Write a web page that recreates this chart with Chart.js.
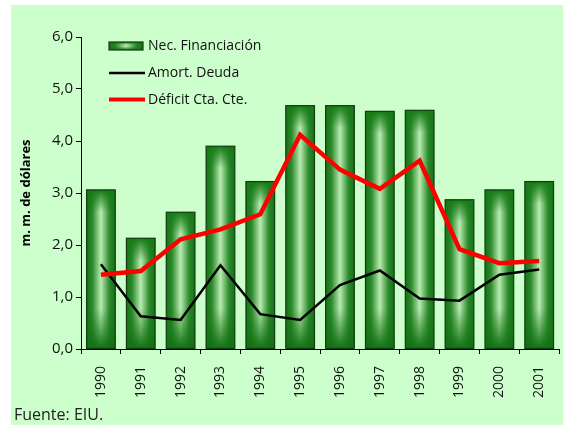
<!DOCTYPE html>
<html>
<head>
<meta charset="utf-8">
<script src="https://cdn.jsdelivr.net/npm/chart.js@4"></script>
<style>
  html, body { margin: 0; padding: 0; background: #fff; overflow: hidden; }
  #marco { position: absolute; left: 11px; top: 5px; width: 557px; height: 420px; background: #ccffcc; }
  #fuente { position: absolute; left: 14px; top: 405px; font: 16px "Open Sans", sans-serif; color: #222; line-height: 18px; }
</style>
</head>
<body>
<div id="marco"><canvas id="wykres" width="557" height="420"></canvas></div>
<div id="fuente">Fuente: EIU.</div>
<script>
// dane
const anos = ["1990", "1991", "1992", "1993", "1994", "1995", "1996", "1997", "1998", "1999", "2000", "2001"];
const necFinanciacion = [3.06, 2.13, 2.63, 3.9, 3.22, 4.68, 4.68, 4.57, 4.59, 2.87, 3.06, 3.22];
const amortDeuda = [1.63, 0.63, 0.56, 1.61, 0.67, 0.56, 1.23, 1.51, 0.97, 0.93, 1.43, 1.53];
const deficitCta = [1.43, 1.5, 2.11, 2.3, 2.59, 4.12, 3.45, 3.08, 3.62, 1.92, 1.65, 1.69];
const etiquetas = ["Nec. Financiación", "Amort. Deuda", "Déficit Cta. Cte."];

// gradient slupka - ciemne brzegi, jasny srodek
function rysujSlupek(ctx, left, top, right, bottom) {
  const h = bottom - top;
  const g = ctx.createLinearGradient(left, 0, right, 0);
  g.addColorStop(0, '#137213');
  g.addColorStop(0.2, '#2b8a2b');
  g.addColorStop(0.5, '#b9ebb1');
  g.addColorStop(0.8, '#2b8a2b');
  g.addColorStop(1, '#137213');
  ctx.fillStyle = g;
  ctx.fillRect(left, top, right - left, h);

  const v = ctx.createLinearGradient(0, top, 0, bottom);
  v.addColorStop(0, 'rgba(22,122,22,1)');
  v.addColorStop(Math.min(22 / h, 0.35), 'rgba(22,122,22,0)');
  v.addColorStop(1 - Math.min(40 / h, 0.45), 'rgba(22,122,22,0)');
  v.addColorStop(1, 'rgba(18,110,18,1)');
  ctx.fillStyle = v;
  ctx.fillRect(left, top, right - left, h);

  ctx.strokeStyle = '#123d12';
  ctx.lineWidth = 1.2;
  ctx.strokeRect(left, top, right - left, h);
}

const slupkiPlugin = {
  id: 'slupki',
  afterDatasetDraw(chart, args) {
    if (args.index !== 0) return;
    const ctx = chart.ctx;
    ctx.save();
    args.meta.data.forEach(bar => {
      const p = bar.getProps(['x', 'y', 'base', 'width'], true);
      rysujSlupek(ctx, p.x - p.width / 2, p.y, p.x + p.width / 2, p.base);
    });
    ctx.restore();
  }
};

// legenda wewnatrz wykresu
const legendaPlugin = {
  id: 'legenda',
  afterDraw(chart) {
    const ctx = chart.ctx;
    ctx.save();
    rysujSlupek(ctx, 98, 37, 132, 45);

    ctx.lineWidth = 2.5;
    ctx.strokeStyle = '#000';
    ctx.beginPath(); ctx.moveTo(98, 68); ctx.lineTo(134, 68); ctx.stroke();

    ctx.lineWidth = 4;
    ctx.strokeStyle = '#ff0000';
    ctx.beginPath(); ctx.moveTo(98, 94.5); ctx.lineTo(134, 94.5); ctx.stroke();

    ctx.font = '14px "Open Sans", sans-serif';
    ctx.fillStyle = '#111';
    ctx.textBaseline = 'middle';
    ctx.fillText(etiquetas[0], 137, 41);
    ctx.fillText(etiquetas[1], 137, 68);
    ctx.fillText(etiquetas[2], 137, 95);
    ctx.restore();
  }
};

new Chart(document.getElementById('wykres'), {
  type: 'bar',
  data: {
    labels: anos,
    datasets: [
      {
        type: 'bar',
        label: etiquetas[0],
        data: necFinanciacion,
        backgroundColor: 'rgba(0,0,0,0)',
        borderWidth: 0,
        barPercentage: 0.72,
        categoryPercentage: 1,
        order: 3
      },
      {
        type: 'line',
        label: etiquetas[1],
        data: amortDeuda,
        borderColor: '#000',
        borderWidth: 2.5,
        pointRadius: 0,
        tension: 0,
        order: 2
      },
      {
        type: 'line',
        label: etiquetas[2],
        data: deficitCta,
        borderColor: '#ff0000',
        borderWidth: 4.5,
        pointRadius: 0,
        tension: 0,
        order: 1
      }
    ]
  },
  options: {
    responsive: false,
    animation: false,
    layout: { padding: { top: 32, left: 0, right: 0, bottom: 0 } },
    scales: {
      x: {
        offset: true,
        grid: { display: true, drawOnChartArea: false, offset: true, tickLength: 5, color: '#000' },
        border: { color: '#000', width: 1 },
        ticks: { minRotation: 90, maxRotation: 90, padding: 12, color: '#111', font: { family: 'Open Sans', size: 14 } },
        afterFit(scale) { scale.height = 76; }
      },
      y: {
        min: 0,
        max: 6,
        ticks: {
          stepSize: 1,
          color: '#111',
          padding: 3,
          font: { family: 'Open Sans', size: 15 },
          callback: v => v.toFixed(1).replace('.', ',')
        },
        grid: { display: true, drawOnChartArea: false, tickLength: 5, color: '#000' },
        border: { color: '#000', width: 1 },
        title: {
          display: true,
          text: 'm. m. de dólares',
          color: '#000',
          padding: { top: 7, bottom: 4 },
          font: { family: 'Open Sans', size: 13, weight: 'bold' }
        },
        afterFit(scale) { scale.width = 70; }
      }
    },
    plugins: {
      legend: { display: false },
      tooltip: { enabled: false }
    }
  },
  plugins: [slupkiPlugin, legendaPlugin]
});
</script>
</body>
</html>
